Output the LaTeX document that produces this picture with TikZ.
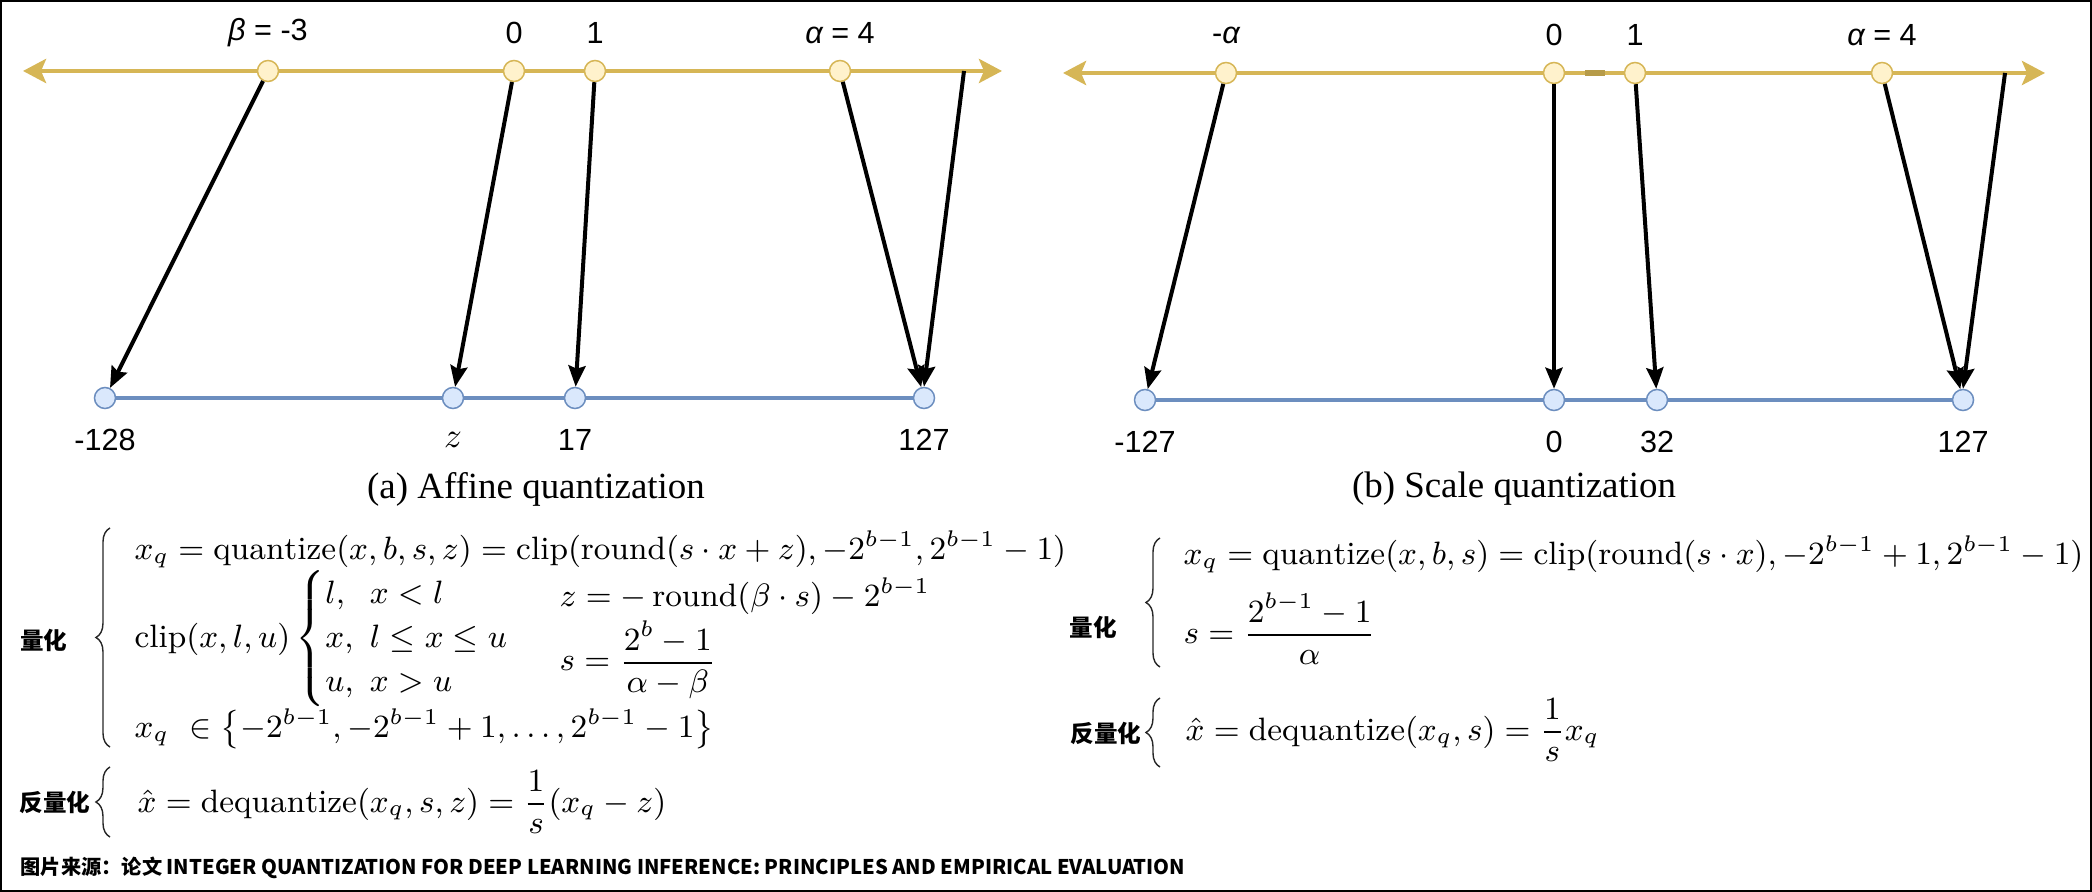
\RequirePackage{fix-cm}
\documentclass[tikz,border=0pt]{standalone}
\usepackage{amsmath}
\usepackage{amssymb}
\usepackage{fontspec}
\newfontfamily\lblfont{Liberation Sans}
\newfontfamily\capfont{Liberation Serif}
\newfontfamily\cjkfont{Noto Sans CJK SC}
\usetikzlibrary{arrows.meta,decorations.pathreplacing}
\definecolor{goldline}{HTML}{D6B656}
\definecolor{goldfill}{HTML}{FFF2CC}
\definecolor{blueline}{HTML}{6C8EBF}
\definecolor{bluefill}{HTML}{DAE8FC}

\begin{document}
\begin{tikzpicture}[x=0.01cm,y=-0.01cm,
	fpt/.style={circle,draw=goldline,fill=goldfill,line width=0.015cm,minimum size=0.21cm,inner sep=0pt},
	ipt/.style={circle,draw=blueline,fill=bluefill,line width=0.015cm,minimum size=0.21cm,inner sep=0pt},
	realaxis/.style={goldline,line width=0.045cm,{Stealth[length=0.23cm,width=0.24cm,inset=0.05cm]}-{Stealth[length=0.23cm,width=0.24cm,inset=0.05cm]}},
	intaxis/.style={blueline,line width=0.04cm},
	map/.style={-{Stealth[length=0.21cm,width=0.17cm,inset=0.03cm]},line width=0.04cm},
	numlbl/.style={font=\lblfont\fontsize{8.7}{10}\selectfont},
	subcap/.style={font=\capfont\fontsize{10.5}{12}\selectfont},
	eq/.style={anchor=base west,inner sep=0pt,font=\fontsize{9.2}{11}\selectfont},
	tag/.style={inner sep=0pt,font=\cjkfont\bfseries\fontsize{6.7}{8}\selectfont},
	grp/.style={decorate,decoration={brace,amplitude=4pt},line width=0.4pt,draw=black!85}]
	\useasboundingbox (0,0) rectangle (2092,892);
	\draw[line width=0.02cm] (1,1) rectangle (2091,891);

	\coordinate (aL) at (23,71);
	\coordinate (aR) at (1002,71);
	\coordinate (iaL) at (105,398);
	\coordinate (iaR) at (924,398);
	\draw[realaxis] (aL)--(aR);
	\draw[intaxis] (iaL)--(iaR);
	\node[fpt] (fa1) at (268,71) {};
	\node[fpt] (fa2) at (514,71) {};
	\node[fpt] (fa3) at (595,71) {};
	\node[fpt] (fa4) at (840,71) {};
	\coordinate (fa5) at (964,71);
	\node[ipt] (qa1) at (105,398) {};
	\node[ipt] (qa2) at (453,398) {};
	\node[ipt] (qa3) at (575,398) {};
	\node[ipt] (qa4) at (924,398) {};
	\draw[map] (fa1)--(qa1);
	\draw[map] (fa2)--(qa2);
	\draw[map] (fa3)--(qa3);
	\draw[map] (fa4)--(qa4);
	\draw[map] (fa5)--(qa4.north);
	\node[numlbl] (la1) at (268,33) {{\itshape β} = -3};
	\node[numlbl] (la2) at (514,33) {0};
	\node[numlbl] (la3) at (595,33) {1};
	\node[numlbl] (la4) at (840,33) {{\itshape α} = 4};
	\node[numlbl] (ka1) at (105,440) {-128};
	\node[font=\fontsize{10}{12}\selectfont] (ka2) at (453,440) {$z$};
	\node[numlbl] (ka3) at (575,440) {17};
	\node[numlbl] (ka4) at (924,440) {127};
	\node[subcap] (capa) at (536,489) {(a) Affine quantization};

	\coordinate (bL) at (1063,73);
	\coordinate (bR) at (2045,73);
	\coordinate (ibL) at (1145,400);
	\coordinate (ibR) at (1963,400);
	\draw[realaxis] (bL)--(bR);
	\draw[goldline!85!black,line width=0.06cm] (1585,73)--(1605,73);
	\draw[intaxis] (ibL)--(ibR);
	\node[fpt] (fb1) at (1226,73) {};
	\node[fpt] (fb2) at (1554,73) {};
	\node[fpt] (fb3) at (1635,73) {};
	\node[fpt] (fb4) at (1882,73) {};
	\coordinate (fb5) at (2005,73);
	\node[ipt] (qb1) at (1145,400) {};
	\node[ipt] (qb2) at (1554,400) {};
	\node[ipt] (qb3) at (1657,400) {};
	\node[ipt] (qb4) at (1963,400) {};
	\draw[map] (fb1)--(qb1);
	\draw[map] (fb2)--(qb2);
	\draw[map] (fb3)--(qb3);
	\draw[map] (fb4)--(qb4);
	\draw[map] (fb5)--(qb4.north);
	\node[numlbl] (lb1) at (1226,35) {-{\itshape α}};
	\node[numlbl] (lb2) at (1554,35) {0};
	\node[numlbl] (lb3) at (1635,35) {1};
	\node[numlbl] (lb4) at (1882,35) {{\itshape α} = 4};
	\node[numlbl] (kb1) at (1145,442) {-127};
	\node[numlbl] (kb2) at (1554,442) {0};
	\node[numlbl] (kb3) at (1657,442) {32};
	\node[numlbl] (kb4) at (1963,442) {127};
	\node[subcap] (capb) at (1514,489) {(b) Scale quantization};

	\draw[grp] (110,747)--(110,528);
	\node[tag] (ta) at (44,640) {量化};
	\node[eq] (ea1) at (134,560) {$x_q = \mathrm{quantize}(x,b,s,z) = \mathrm{clip}(\mathrm{round}(s\cdot x+z), -2^{b-1}, 2^{b-1}-1)$};
	\node[eq] (ea2) at (134,647) {$\mathrm{clip}(x,l,u)\left\{\renewcommand{\arraystretch}{1.13}\begin{array}{@{}l@{\enspace}l@{}} l, & x<l\\ x, & l\leq x\leq u\\ u, & x>u\end{array}\right.$};
	\node[eq] (ea3) at (559,607) {$z = -\,\mathrm{round}(\beta\cdot s) - 2^{b-1}$};
	\node[eq] (ea4) at (559,671) {$s = \dfrac{2^b-1}{\alpha-\beta}$};
	\node[eq] (ea5) at (134,738) {$x_q\ \in \left\{-2^{b-1}, -2^{b-1}+1, \ldots, 2^{b-1}-1\right\}$};
	\draw[grp] (110,837)--(110,767);
	\node[tag] (tda) at (55,802) {反量化};
	\node[eq] (da1) at (137,812) {$\hat{x} = \mathrm{dequantize}(x_q,s,z) = \dfrac{1}{s}(x_q-z)$};

	\draw[grp] (1160,667)--(1160,538);
	\node[tag] (tb) at (1093,627) {量化};
	\node[eq] (eb1) at (1183,565) {$x_q = \mathrm{quantize}(x,b,s) = \mathrm{clip}(\mathrm{round}(s\cdot x), -2^{b-1}+1, 2^{b-1}-1)$};
	\node[eq] (eb2) at (1183,643) {$s = \dfrac{2^{b-1}-1}{\alpha}$};
	\draw[grp] (1160,767)--(1160,698);
	\node[tag] (tdb) at (1106,733) {反量化};
	\node[eq] (db1) at (1185,740) {$\hat{x} = \mathrm{dequantize}(x_q,s) = \dfrac{1}{s}x_q$};

	\node[anchor=west,inner sep=0pt,font=\cjkfont\bfseries\fontsize{5.75}{7}\selectfont] (src) at (20,868) {图片来源：论文 INTEGER QUANTIZATION FOR DEEP LEARNING INFERENCE: PRINCIPLES AND EMPIRICAL EVALUATION};
\end{tikzpicture}
\end{document}
